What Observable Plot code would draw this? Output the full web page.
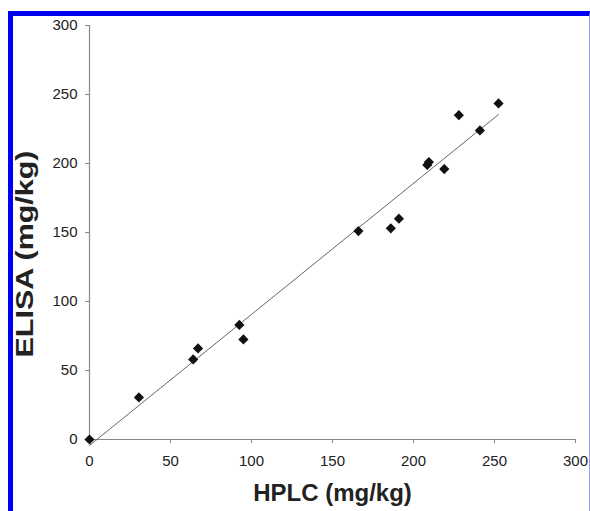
<!DOCTYPE html>
<html>
<head>
<meta charset="utf-8">
<script src="https://cdn.jsdelivr.net/npm/d3@7"></script>
<script src="https://cdn.jsdelivr.net/npm/@observablehq/plot@0.6"></script>
<style>
  html, body { margin: 0; padding: 0; background: #fff; }
  #wrap { position: relative; width: 590px; height: 511px; overflow: hidden; }
  #frame { position: absolute; left: 8px; top: 11px; width: 576px; height: 520px;
           border-top: 5px solid #0000f0; border-left: 5px solid #0000f0; border-right: 1px solid #9a9af0; pointer-events: none; }
  svg { font-family: "Liberation Sans", Arial, sans-serif; }
</style>
</head>
<body>
<div id="wrap"><div id="frame"></div></div>
<script>
const hplc  = [0, 30.5, 64, 67, 92.5, 95, 166, 186, 191, 208.5, 209.5, 219, 228, 241, 252.5];
const elisa = [0, 30.5, 58, 66, 83, 72.5, 151, 153, 160, 199, 201, 196, 235, 224, 243.5];
const xTicks = [0, 50, 100, 150, 200, 250, 300];
const yTicks = [0, 50, 100, 150, 200, 250, 300];
const xLabel = "HPLC (mg/kg)";
const yLabel = "ELISA (mg/kg)";

const data = hplc.map((h, i) => ({hplc: h, elisa: elisa[i]}));

const chart = Plot.plot({
  width: 590,
  height: 511,
  marginLeft: 89,
  marginRight: 15,
  marginTop: 25,
  marginBottom: 72,
  style: {background: "transparent", fontFamily: "Liberation Sans, Arial, sans-serif"},
  x: {domain: [0, 300]},
  y: {domain: [0, 300]},
  marks: [
    Plot.axisX({ticks: xTicks, tickSize: 4, tickPadding: 12, fontSize: 15, fill: "#222", stroke: "#888", label: null}),
    Plot.axisY({ticks: yTicks, tickSize: 4, tickPadding: 8, fontSize: 15, fill: "#222", stroke: "#888", label: null}),
    Plot.ruleY([0], {stroke: "#888", strokeWidth: 1.2}),
    Plot.ruleX([0], {stroke: "#888", strokeWidth: 1.2}),
    Plot.linearRegressionY(data, {x: "hplc", y: "elisa", ci: 0, stroke: "#555", strokeWidth: 0.9}),
    Plot.dot(data, {x: "hplc", y: "elisa", symbol: "diamond2", r: 4.6, fill: "#111", stroke: "none"}),
    Plot.text([xLabel], {frameAnchor: "bottom", text: d => d, dy: 61, fontSize: 24, fontWeight: "bold", fill: "#222"}),
    Plot.text([yLabel], {frameAnchor: "left", text: d => d, rotate: -90, textAnchor: "start", dx: -64, dy: 125, fontSize: 24, fontWeight: "bold", fill: "#222", className: "ylab"})
  ]
});
document.getElementById("wrap").insertBefore(chart, document.getElementById("frame"));
// stretch the y title along its baseline as in the reference
chart.querySelectorAll(".ylab text").forEach(t => {
  t.setAttribute("textLength", 207);
  t.setAttribute("lengthAdjust", "spacingAndGlyphs");
});
</script>
</body>
</html>
